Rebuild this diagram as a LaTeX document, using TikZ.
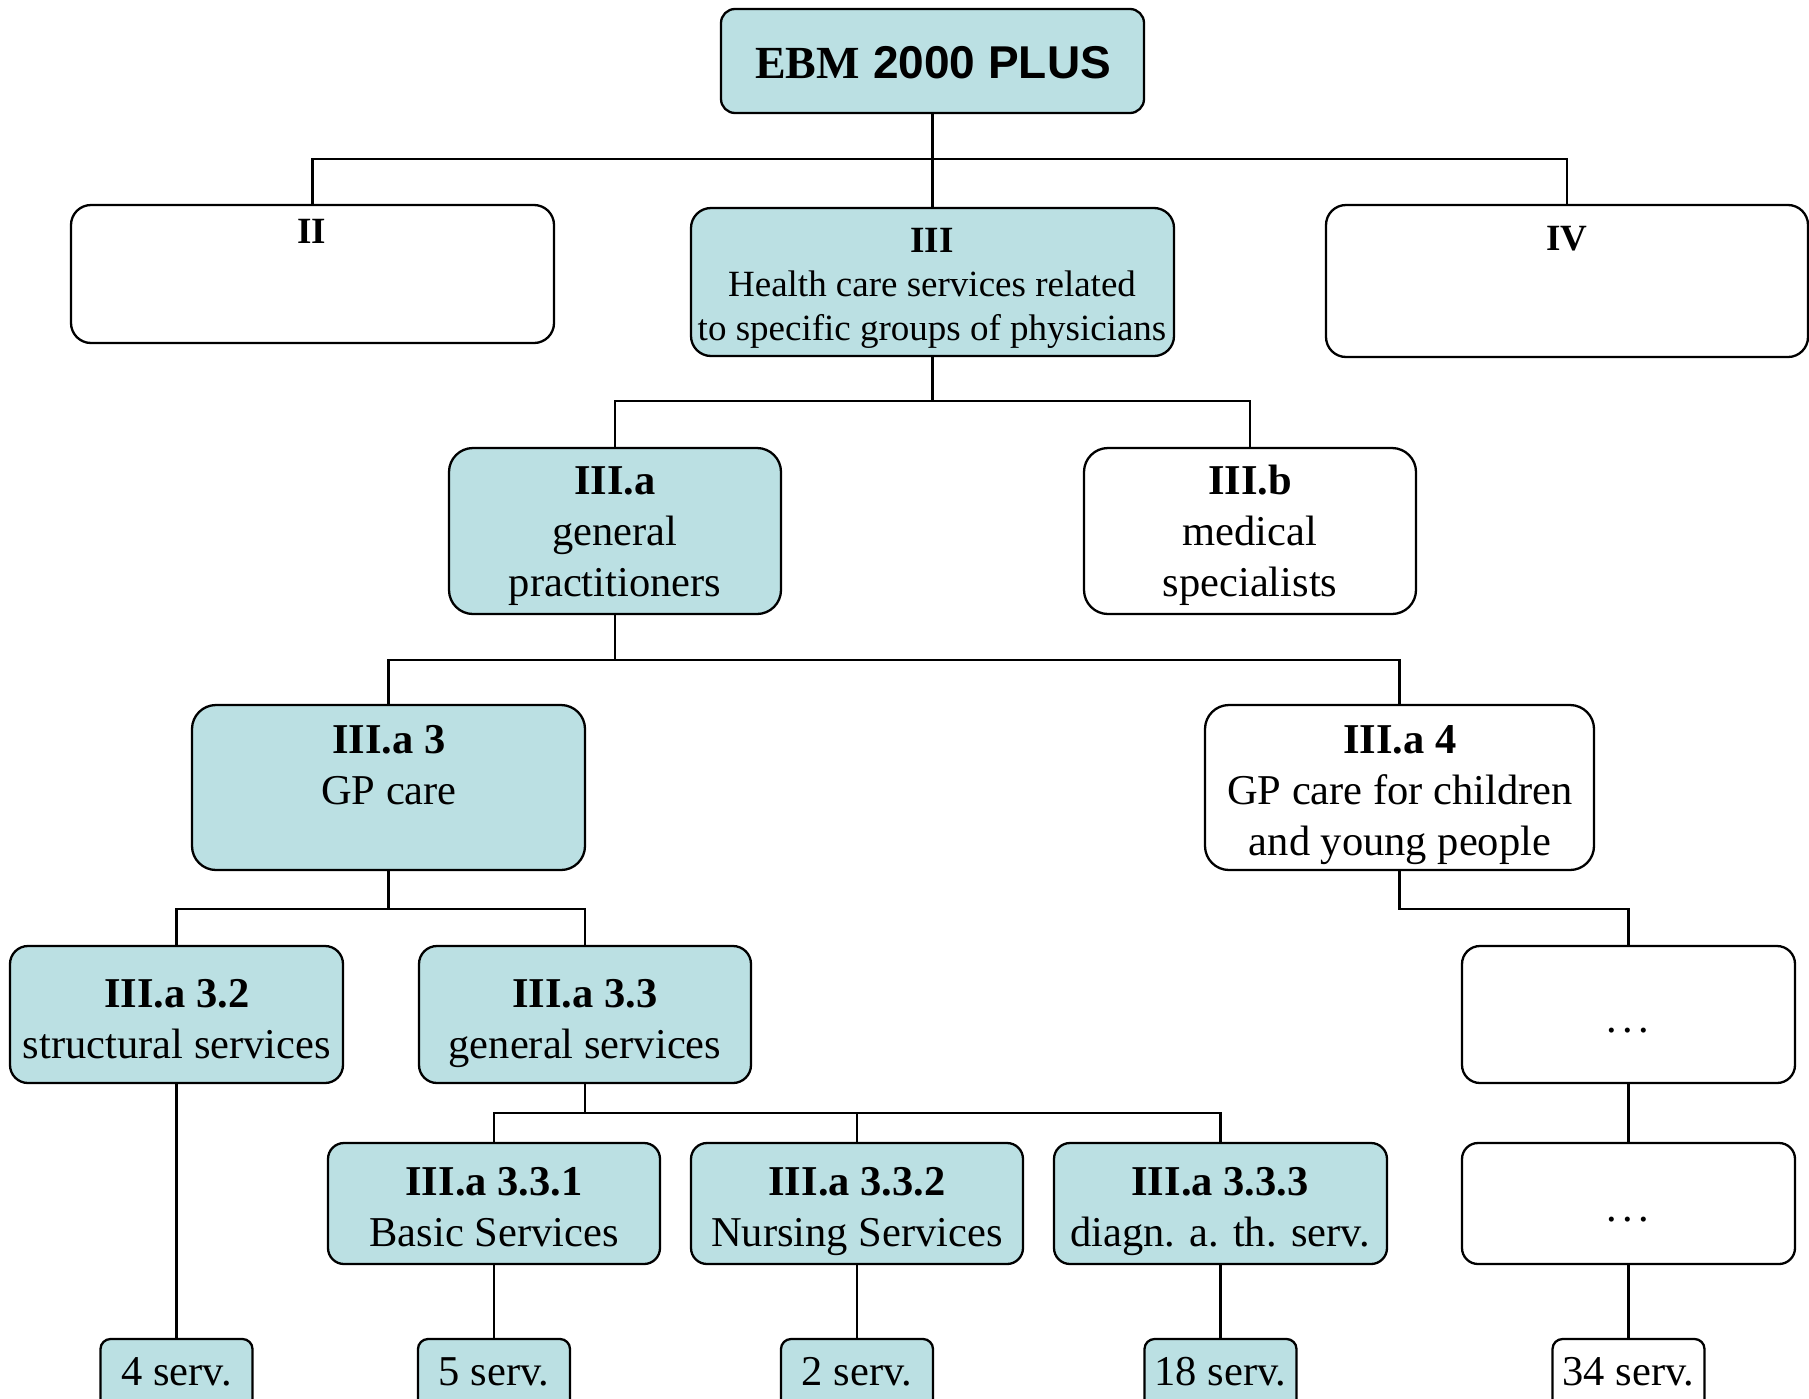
\documentclass[tikz,border=0pt]{standalone}
\usepackage{fontspec}
\setmainfont{Liberation Serif}
\newfontfamily\headsans{Liberation Sans}
\usetikzlibrary{fit}
\definecolor{boxteal}{RGB}{187,224,227}

% multi-line label whose reference point is the first baseline
\newcommand{\stack}[1]{\begin{tabular}[t]{@{}c@{}}#1\end{tabular}}
\newcommand{\bodysize}{\fontsize{21.25}{25.5}\selectfont}
\newcommand{\smallsize}{\fontsize{18.5}{22}\selectfont}
\newcommand{\dotrow}{.\kern2.7pt.\kern2.7pt.}

\begin{document}
\begin{tikzpicture}[x=0.5pt,y=-0.5pt,
  box/.style={draw, line width=1.15pt, inner sep=0pt, rounded corners=#1},
  box/.default=8pt,
  tealbox/.style={fill=boxteal},
  whitebox/.style={fill=white},
  lbl/.style={anchor=base, inner sep=0pt, font=\bodysize},
  lblsmall/.style={anchor=base, inner sep=0pt, font=\smallsize},
  wire/.style={line width=1.15pt}]

\useasboundingbox (0,0) rectangle (1809,1398);
\clip (0,0) rectangle (1809,1398);

% ---------- boxes ----------
\node[box=7pt,  tealbox,  fit={(721,9) (1144,113)}]    (ebm)   {};
\node[box=10pt, whitebox, fit={(71,205) (554,343)}]    (ii)    {};
\node[box=10pt, tealbox,  fit={(691,208) (1174,356)}]  (iii)   {};
\node[box=10pt, whitebox, fit={(1326,205) (1808,357)}] (iv)    {};
\node[box=12pt, tealbox,  fit={(449,448) (781,614)}]   (iiia)  {};
\node[box=12pt, whitebox, fit={(1084,448) (1416,614)}] (iiib)  {};
\node[box=12pt, tealbox,  fit={(192,705) (585,870)}]   (iiia3) {};
\node[box=12pt, whitebox, fit={(1205,705) (1594,870)}] (iiia4) {};
\node[box=9pt,  tealbox,  fit={(10,946) (343,1083)}]   (s32)   {};
\node[box=9pt,  tealbox,  fit={(419,946) (751,1083)}]  (s33)   {};
\node[box=9pt,  whitebox, fit={(1462,946) (1795,1083)}] (dotsA) {};
\node[box=8pt,  tealbox,  fit={(328,1143) (660,1264)}]  (s331)  {};
\node[box=8pt,  tealbox,  fit={(691,1143) (1023,1264)}] (s332)  {};
\node[box=8pt,  tealbox,  fit={(1054,1143) (1387,1264)}] (s333) {};
\node[box=8pt,  whitebox, fit={(1462,1143) (1795,1264)}] (dotsB) {};
\node[box=5pt,  tealbox,  fit={(100.5,1339) (252.5,1420)}] (n4)  {};
\node[box=5pt,  tealbox,  fit={(418,1339) (570,1420)}]     (n5)  {};
\node[box=5pt,  tealbox,  fit={(781,1339) (933,1420)}]     (n2)  {};
\node[box=5pt,  tealbox,  fit={(1144.5,1339) (1296.5,1420)}] (n18) {};
\node[box=5pt,  whitebox, fit={(1552.5,1339) (1704.5,1420)}] (n34) {};

% ---------- labels ----------
\node[anchor=base, inner sep=0pt, font=\fontsize{23}{27}\selectfont] (t-ebm) at (933,78)
  {\bfseries EBM\hspace{0.29em}{\headsans\bfseries 2000 PLUS}};
\node[lblsmall] (t-ii)  at (312,243)  {\bfseries II};
\node[lblsmall] (t-iii) at (932,252)
  {\stack{\bfseries III\\Health care services related\\to specific groups of physicians}};
\node[lblsmall] (t-iv)  at (1567,250) {\bfseries IV};
\node[lbl] (t-iiia)  at (615,494)  {\stack{\bfseries III.a\\general\\practitioners}};
\node[lbl] (t-iiib)  at (1250,494) {\stack{\bfseries III.b\\medical\\specialists}};
\node[lbl] (t-iiia3) at (389,753)  {\stack{\bfseries III.a 3\\GP care}};
\node[lbl] (t-iiia4) at (1400,753) {\stack{\bfseries III.a 4\\GP care for children\\and young people}};
\node[lbl] (t-s32)   at (177,1007) {\stack{\bfseries III.a 3.2\\structural services}};
\node[lbl] (t-s33)   at (585,1007) {\stack{\bfseries III.a 3.3\\general services}};
\node[lbl] (t-dotsA) at (1628,1032) {\dotrow};
\node[lbl] (t-s331)  at (494,1195) {\stack{\bfseries III.a 3.3.1\\Basic Services}};
\node[lbl] (t-s332)  at (857,1195) {\stack{\bfseries III.a 3.3.2\\Nursing Services}};
\node[lbl] (t-s333)  at (1220,1195) {\stack{\bfseries III.a 3.3.3\\diagn. a. th. serv.}};
\node[lbl] (t-dotsB) at (1628,1221) {\dotrow};
\node[lbl] (t-n4)  at (176.5,1385)  {4 serv.};
\node[lbl] (t-n5)  at (494,1385)    {5 serv.};
\node[lbl] (t-n2)  at (857,1385)    {2 serv.};
\node[lbl] (t-n18) at (1220.5,1385) {18 serv.};
\node[lbl] (t-n34) at (1628.5,1385) {34 serv.};

% ---------- junction points of the tree ----------
\coordinate (j1) at (932.5,159);
\coordinate (j2) at (932.5,401);
\coordinate (j3) at (615,660);
\coordinate (j4) at (388.5,909);
\coordinate (j5) at (1628.5,909);
\coordinate (j6) at (585,1113);

% ---------- connectors ----------
\draw[wire] (ebm.south) -- (iii.north);
\draw[wire] (ii.north) |- (j1) -| (iv.north);

\draw[wire] (iii.south) -- (j2);
\draw[wire] (iiia.north) |- (j2) -| (iiib.north);

\draw[wire] (iiia.south) -- (j3);
\draw[wire] (iiia3.north) |- (j3) -| (iiia4.north);

\draw[wire] (iiia3.south) -- (j4);
\draw[wire] (s32.north) |- (j4) -| (s33.north);

\draw[wire] (iiia4.south) |- (j5) -- (dotsA.north);

\draw[wire] (s33.south) -- (j6);
\draw[wire] (s331.north) |- (j6) -| (s333.north);
\draw[wire] (s332.north) -- (s332.north |- j6);

\draw[wire] (s32.south) -- (n4.north);
\draw[wire] (s331.south) -- (n5.north);
\draw[wire] (s332.south) -- (n2.north);
\draw[wire] (s333.south) -- (n18.north);
\draw[wire] (dotsA.south) -- (dotsB.north);
\draw[wire] (dotsB.south) -- (n34.north);
\end{tikzpicture}
\end{document}
